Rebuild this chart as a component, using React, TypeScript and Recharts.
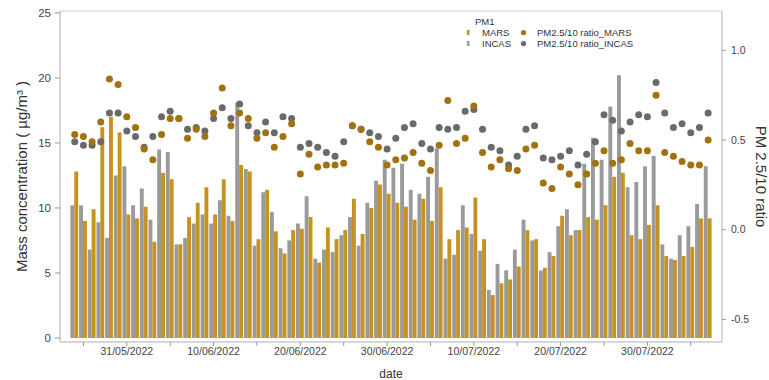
import { ComposedChart, Bar, Scatter, XAxis, YAxis, ReferenceArea } from "recharts";

// daily PM1 (µg/m3), 25/05/2022 .. 06/08/2022
const incas = [
  10.2, 10.2, 6.8, 8.9, 7.7, 12.5, 13.2, 10.2, 11.5, 9.1, 14.5, 14.3, 7.2, 7.7, 8.8, 9.5, 8.8, 10.6, 9.4, 18.1,
  13.0, 7.1, 11.2, 9.7, 6.9, 7.5, 8.8, 10.9, 6.1, 6.8, 6.6, 7.9, 9.3, 7.1, 10.4, 12.1, 13.7, 13.1, 13.4, 11.4,
  11.1, 12.4, 14.6, 6.1, 6.4, 10.2, 8.0, 6.7, 3.7, 5.7, 5.2, 6.8, 9.1, 7.5, 5.2, 6.6, 8.6, 9.9, 8.3, 13.4,
  15.4, 13.7, 17.8, 20.2, 11.6, 12.0, 13.2, 14.0, 7.2, 6.1, 7.9, 8.6, 10.3, 13.2,
];
const mars = [
  12.8, 9.0, 9.9, 16.2, 17.0, 15.8, 9.5, 9.2, 10.1, 7.4, 12.7, 12.2, 7.2, 9.3, 10.4, 11.6, 9.5, 12.2, 9.0, 13.3,
  12.8, 7.6, 11.4, 8.2, 6.5, 8.3, 8.4, 9.3, 5.8, 8.5, 7.6, 8.3, 10.7, 8.0, 10.0, 11.8, 11.1, 10.4, 10.1, 9.1,
  10.7, 9.0, 11.6, 7.6, 8.3, 8.5, 10.8, 7.6, 3.3, 4.2, 4.5, 5.5, 8.3, 7.6, 5.4, 6.3, 9.4, 7.9, 8.3, 9.3,
  9.1, 10.2, 12.4, 12.7, 7.9, 7.6, 8.7, 10.2, 6.3, 6.0, 6.3, 7.0, 9.2, 9.2,
];
// PM2.5/PM10 ratio
const ratioMars = [
  0.53, 0.52, 0.49, 0.6, 0.84, 0.81, 0.63, 0.57, 0.45, 0.39, 0.53, 0.62, 0.62, 0.51, 0.56, 0.52, 0.65, 0.79, 0.58, 0.65,
  0.62, 0.51, 0.54, 0.46, 0.52, 0.59, 0.31, 0.42, 0.35, 0.36, 0.36, 0.37, 0.58, 0.56, 0.49, 0.46, 0.36, 0.39, 0.4, 0.43,
  0.37, 0.33, 0.47, 0.72, 0.48, 0.51, 0.69, 0.43, 0.35, 0.39, 0.34, 0.33, 0.45, 0.47, 0.26, 0.23, 0.35, 0.31, 0.25, 0.31,
  0.37, 0.44, 0.37, 0.39, 0.48, 0.44, 0.44, 0.75, 0.43, 0.41, 0.38, 0.36, 0.36, 0.5,
];
const ratioIncas = [
  0.49, 0.47, 0.47, 0.49, 0.65, 0.65, 0.55, 0.52, 0.46, 0.52, 0.63, 0.66, 0.62, 0.56, 0.57, 0.55, 0.62, 0.68, 0.62, 0.7,
  0.58, 0.54, 0.6, 0.54, 0.63, 0.62, 0.46, 0.48, 0.46, 0.43, 0.41, 0.49, 0.58, 0.56, 0.54, 0.52, 0.45, 0.51, 0.57, 0.59,
  0.48, 0.45, 0.57, 0.56, 0.57, 0.66, 0.67, 0.56, 0.46, 0.44, 0.36, 0.41, 0.56, 0.58, 0.4, 0.39, 0.41, 0.44, 0.36, 0.42,
  0.49, 0.64, 0.61, 0.55, 0.6, 0.64, 0.63, 0.82, 0.65, 0.57, 0.59, 0.54, 0.57, 0.65,
];

// x ticks in days after 25/05/2022
const dayTicks = [1, 6, 11, 16, 21, 26, 31, 36, 41, 46, 51, 56, 61, 66, 71];
const dayTickLabels = [
  "", "31/05/2022", "", "10/06/2022", "", "20/06/2022", "", "30/06/2022",
  "", "10/07/2022", "", "20/07/2022", "", "30/07/2022", "",
];
const massTicks = [0, 5, 10, 15, 20, 25];
const ratioTicks = [-0.5, 0, 0.5, 1.0];

const data = incas.map((v, i) => ({
  day: i,
  incas: v,
  mars: mars[i],
  rMars: ratioMars[i],
  rIncas: ratioIncas[i],
}));

const FONT = "'Liberation Sans', Arial, sans-serif";
const GOLD = "#c69222";
const GREY = "#9a9a9a";
const GOLD_DOT = "#a1720f";
const GREY_DOT = "#6a6a6a";

const xDomain = [-1.7, 74.6];
const massDomain = [-0.31, 25.15];

const dot = (color: string) => (props: any) =>
  props.cx == null ? <g /> : <circle cx={props.cx} cy={props.cy} r={3.5} fill={color} />;

function LegendBox() {
  const t = { fontSize: 9.5, fill: "#333", fontFamily: FONT };
  return (
    <svg width={769} height={60} style={{ position: "absolute", left: 0, top: 0, pointerEvents: "none" }}>
      <text x={475} y={25} {...t}>PM1</text>
      <rect x={467} y={30} width={2.5} height={5} fill={GOLD} />
      <text x={482} y={36} {...t}>MARS</text>
      <rect x={467} y={41} width={2.5} height={5} fill={GREY} />
      <text x={482} y={47} {...t}>INCAS</text>
      <circle cx={523.5} cy={32.5} r={2.6} fill={GOLD_DOT} />
      <text x={537} y={36} {...t}>PM2.5/10 ratio_MARS</text>
      <circle cx={523.5} cy={43.5} r={2.6} fill={GREY_DOT} />
      <text x={537} y={47} {...t}>PM2.5/10 ratio_INCAS</text>
    </svg>
  );
}

export default function App() {
  return (
    <div style={{ position: "absolute", left: 0, top: 0, width: 769, height: 380, background: "#fff", fontFamily: FONT }}>
      <ComposedChart
        width={769}
        height={380}
        data={data}
        margin={{ top: 11, right: 0, bottom: 0, left: 0 }}
        barGap={0}
      >
        <XAxis
          dataKey="day"
          type="number"
          domain={xDomain}
          allowDataOverflow
          ticks={dayTicks}
          interval={0}
          tickFormatter={(v) => dayTickLabels[dayTicks.indexOf(v)] ?? ""}
          height={38}
          tickSize={4}
          tick={{ fontSize: 10.5, fill: "#444", fontFamily: FONT }}
          tickLine={{ stroke: "#999" }}
          axisLine={{ stroke: "#c8c8c8" }}
          label={{ value: "date", position: "insideBottom", offset: 2, fontSize: 12, fill: "#333", fontFamily: FONT }}
        />
        <YAxis
          yAxisId="left"
          width={60}
          domain={massDomain}
          allowDataOverflow
          ticks={massTicks}
          interval={0}
          tickSize={5}
          tickMargin={4}
          tick={{ fontSize: 11.5, fill: "#444", fontFamily: FONT }}
          tickLine={{ stroke: "#999" }}
          axisLine={{ stroke: "#c8c8c8" }}
          label={{
            value: "Mass concentration ( µg/m³ )",
            angle: -90,
            position: "insideLeft",
            offset: 22,
            fontSize: 15,
            fill: "#333",
            fontFamily: FONT,
            style: { textAnchor: "middle" },
          }}
        />
        <YAxis
          yAxisId="right"
          orientation="right"
          width={47}
          domain={[-0.626, 1.219]}
          allowDataOverflow
          ticks={ratioTicks}
          interval={0}
          tickFormatter={(v) => v.toFixed(1)}
          tickSize={4}
          tickMargin={5}
          tick={{ fontSize: 10.5, fill: "#444", fontFamily: FONT }}
          tickLine={{ stroke: "#999" }}
          axisLine={{ stroke: "#c8c8c8" }}
          label={{
            value: "PM 2.5/10 ratio",
            angle: 90,
            position: "insideRight",
            offset: 8,
            fontSize: 15,
            fill: "#333",
            fontFamily: FONT,
            style: { textAnchor: "middle" },
          }}
        />
        <ReferenceArea
          yAxisId="left"
          x1={xDomain[0]}
          x2={xDomain[1]}
          y1={massDomain[0]}
          y2={massDomain[1]}
          fill="none"
          stroke="#d0d0d0"
          ifOverflow="visible"
        />
        <Bar yAxisId="left" dataKey="incas" fill={GREY} barSize={3.9} isAnimationActive={false} />
        <Bar yAxisId="left" dataKey="mars" fill={GOLD} barSize={3.9} isAnimationActive={false} />
        <Scatter yAxisId="right" dataKey="rIncas" fill={GREY_DOT} shape={dot(GREY_DOT)} isAnimationActive={false} />
        <Scatter yAxisId="right" dataKey="rMars" fill={GOLD_DOT} shape={dot(GOLD_DOT)} isAnimationActive={false} />
      </ComposedChart>
      <LegendBox />
    </div>
  );
}
